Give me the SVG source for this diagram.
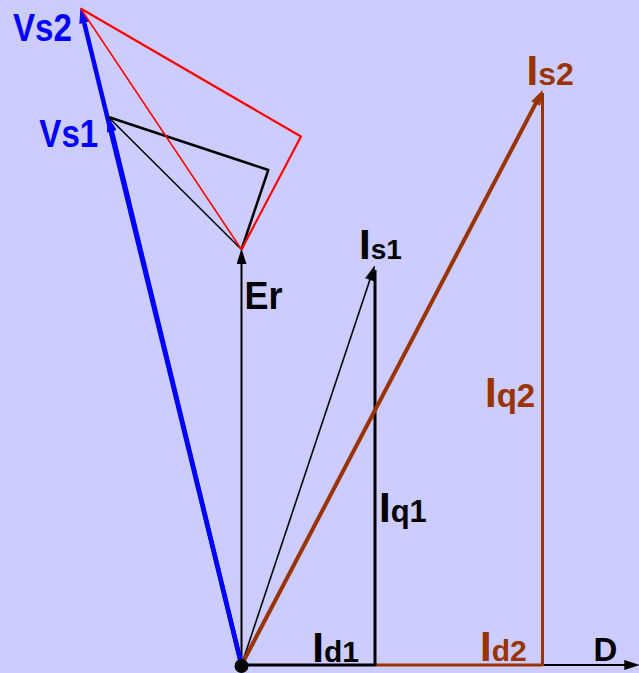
<svg xmlns="http://www.w3.org/2000/svg" width="639" height="673" viewBox="0 0 639 673">
<style>
text{font-family:"Liberation Sans",Arial,sans-serif;font-weight:bold}
.blk{fill:#000}
.blu{fill:#0000FF}
.brn{fill:#993300}
.big{font-size:42px}
</style>
<defs>
<marker id="aBlk" markerUnits="userSpaceOnUse" markerWidth="16" markerHeight="10" viewBox="0 0 14 9" refX="6" refY="4.5" orient="auto"><path d="M0,0 L14,4.5 L0,9 z" fill="#000"/></marker>
<marker id="aBlu" markerUnits="userSpaceOnUse" markerWidth="16" markerHeight="10" viewBox="0 0 14 9" refX="6" refY="4.5" orient="auto"><path d="M0,0 L14,4.5 L0,9 z" fill="#0000FF"/></marker>
<marker id="aBrn" markerUnits="userSpaceOnUse" markerWidth="16" markerHeight="10" viewBox="0 0 14 9" refX="6" refY="4.5" orient="auto"><path d="M0,0 L14,4.5 L0,9 z" fill="#993300"/></marker>
</defs>
<rect width="639" height="673" fill="#CCCCFF"/>
<g id="connectors" fill="none" stroke-linejoin="round">
  <!-- D axis -->
  <line x1="241.5" y1="665" x2="631" y2="665" stroke="#000" stroke-width="2" marker-end="url(#aBlk)"/>
  <!-- Id1, Id2 -->
  <line x1="241.5" y1="665" x2="375" y2="665" stroke="#000" stroke-width="3"/>
  <line x1="375" y1="665" x2="542.5" y2="665" stroke="#993300" stroke-width="3"/>
  <!-- Iq1, Iq2 -->
  <line x1="375" y1="666" x2="375" y2="270" stroke="#000" stroke-width="3"/>
  <line x1="542.5" y1="666" x2="542.5" y2="93" stroke="#993300" stroke-width="3"/>
  <!-- Er -->
  <line x1="241.5" y1="665" x2="241.5" y2="257.5" stroke="#000" stroke-width="2" marker-end="url(#aBlk)"/>
  <!-- Is1 -->
  <line x1="241.5" y1="665" x2="372" y2="273.6" stroke="#000" stroke-width="1.6" marker-end="url(#aBlk)"/>
  <!-- Is2 -->
  <line x1="241.5" y1="665" x2="538.8" y2="97.6" stroke="#993300" stroke-width="4" marker-end="url(#aBrn)"/>
  <!-- Vs2, Vs1 -->
  <line x1="241.5" y1="665" x2="82.6" y2="16.3" stroke="#0000FF" stroke-width="4.5" marker-end="url(#aBlu)"/>
  <line x1="241.5" y1="665" x2="110.2" y2="124.8" stroke="#0000FF" stroke-width="4.5" marker-end="url(#aBlu)"/>
  <!-- black triangle -->
  <polyline points="108.3,117 268.3,170 241.5,249.5" stroke="#000" stroke-width="2.5"/>
  <line x1="108.3" y1="117" x2="241.5" y2="249.5" stroke="#000" stroke-width="1.5"/>
  <!-- red triangle -->
  <polyline points="80.7,8.5 301,136.5 241.5,249.5" stroke="#FF0000" stroke-width="2.2"/>
  <line x1="80.7" y1="8.5" x2="241.5" y2="249.5" stroke="#FF0000" stroke-width="1.5"/>
</g>
<g id="origin"><circle cx="241.5" cy="666" r="7" fill="#000"/></g>
<g id="Vs2"><text class="blu" x="13" y="40.7" font-size="38" textLength="59" lengthAdjust="spacingAndGlyphs">Vs2</text></g>
<g id="Vs1"><text class="blu" x="39.3" y="147.3" font-size="38" textLength="59" lengthAdjust="spacingAndGlyphs">Vs1</text></g>
<g id="Er"><text class="blk" x="244.6" y="309" font-size="38" textLength="38" lengthAdjust="spacingAndGlyphs">Er</text></g>
<g id="Is1"><text class="blk" x="359" y="259.3"><tspan class="big">I</tspan><tspan font-size="28">s1</tspan></text></g>
<g id="Is2"><text class="brn" x="526.6" y="85"><tspan class="big">I</tspan><tspan font-size="32">s2</tspan></text></g>
<g id="Iq1"><text class="blk" x="379" y="521.7"><tspan class="big">I</tspan><tspan font-size="31">q1</tspan></text></g>
<g id="Iq2"><text class="brn" x="485" y="407.3"><tspan class="big">I</tspan><tspan font-size="33">q2</tspan></text></g>
<g id="Id1"><text class="blk" x="312.3" y="661.7"><tspan class="big">I</tspan><tspan font-size="30">d1</tspan></text></g>
<g id="Id2"><text class="brn" x="480" y="661"><tspan class="big">I</tspan><tspan font-size="30">d2</tspan></text></g>
<g id="D"><text class="blk" x="593.5" y="661" font-size="33">D</text></g>
</svg>
